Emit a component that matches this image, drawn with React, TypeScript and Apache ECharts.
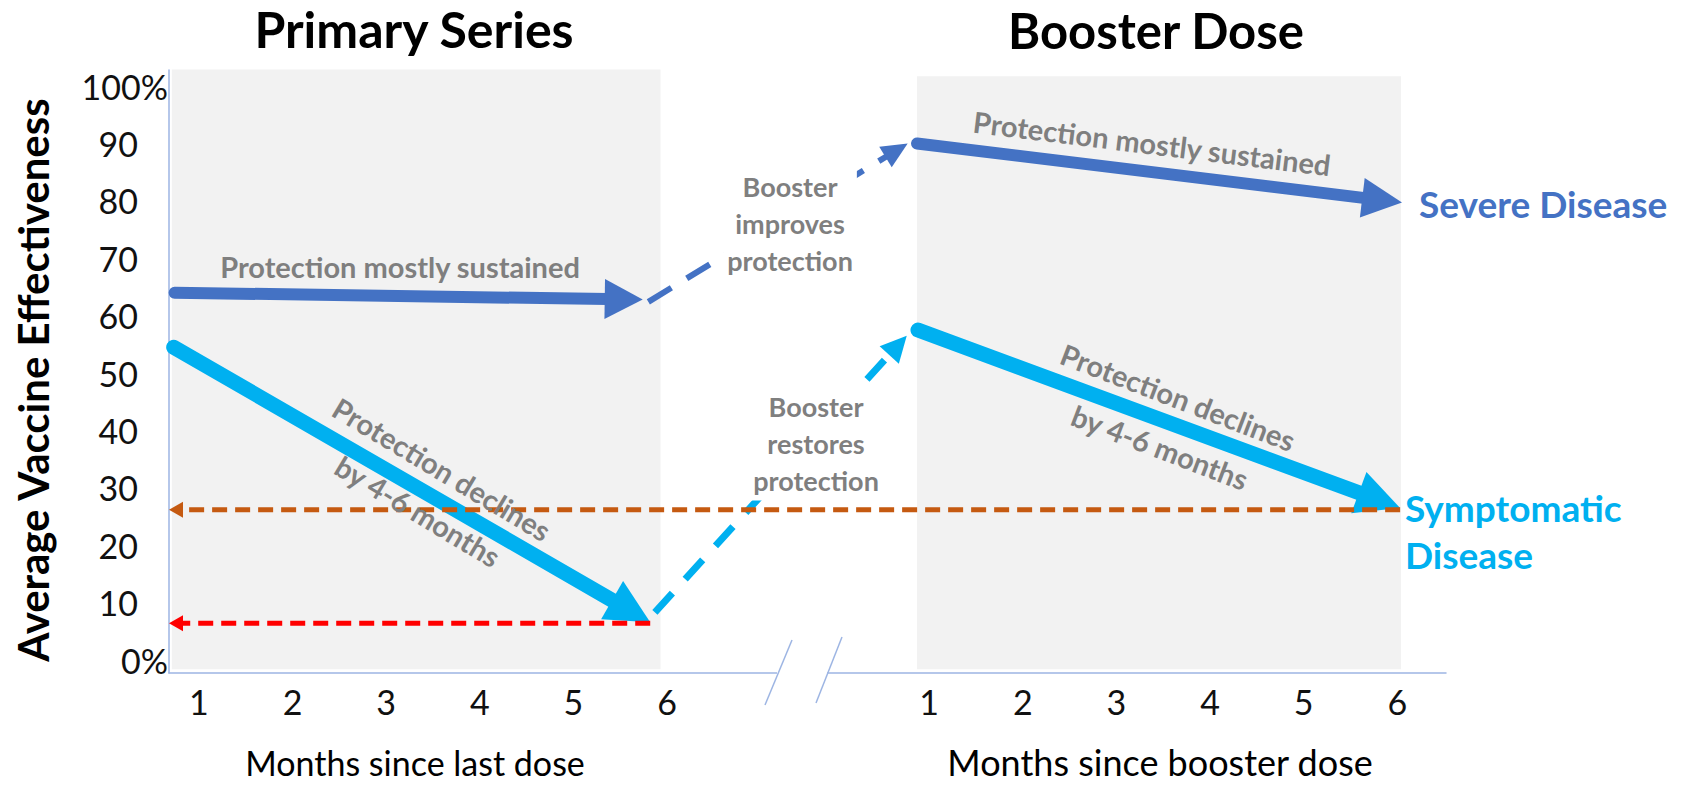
import React, { useEffect, useRef } from "react";
import * as echarts from "echarts";

// ---------------- data ----------------
const primaryMonths = [1, 2, 3, 4, 5, 6];
const boosterMonths = [1, 2, 3, 4, 5, 6];
const BOOSTER_OFFSET = 7.8; // booster month m sits at axis position m + offset
const yTickValues = [0, 10, 20, 30, 40, 50, 60, 70, 80, 90, 100];

// arrows: [startMonth, startVE, endMonth, endVE]
const severePrimary = [0.74, 64, 5.74, 62.8];
const symptomaticPrimary = [0.73, 54.5, 5.82, 6.6];
const severeBooster = [0.87, 90, 6.05, 79.7];
const symptomaticBooster = [0.88, 57.5, 6.03, 26.5];
// jumps: [primaryMonth, VE, boosterMonth, VE]
const severeJump = [5.8, 62.4, 0.77, 90];
const symptomaticJump = [5.87, 8.3, 0.76, 56.5];
// reference levels (% VE)
const waningSymptomaticLevel = 6.4;
const boostedSymptomaticLevel = 26.2;
// shaded periods [startMonth, endMonth]
const primaryPeriod = [0.71, 5.93];
const boosterPeriod = [0.87, 6.04];

const X_MIN = 0.68;
const X_MAX = 14.32;
const Y_MIN = -2.26;
const Y_MAX = 102.8;

const FONT = "Lato, 'Open Sans', 'DejaVu Sans', sans-serif";
const SEVERE = "#4472C4";
const SYMPT = "#00B0F0";
const ORANGE = "#C55A11";
const RED = "#FF0000";
const GREY_TXT = "#7F7F7F";
const AXIS_BLUE = "#9DB5E3";

const pAx = (m: number) => m;
const bAx = (m: number) => m + BOOSTER_OFFSET;

function arrowSeries(
  name: string,
  coords: number[],
  opt: { color: string; width: number; headLen: number; headWidth: number; dash?: number[]; z: number }
) {
  return {
    name,
    type: "custom",
    coordinateSystem: "cartesian2d",
    silent: true,
    z: opt.z,
    clip: false,
    encode: { x: [0, 2], y: [1, 3] },
    data: [coords],
    renderItem: (_params: any, api: any) => {
      const p1 = api.coord([api.value(0), api.value(1)]);
      const p2 = api.coord([api.value(2), api.value(3)]);
      const dx = p2[0] - p1[0];
      const dy = p2[1] - p1[1];
      const len = Math.hypot(dx, dy) || 1;
      const ux = dx / len;
      const uy = dy / len;
      const bx = p2[0] - ux * opt.headLen;
      const by = p2[1] - uy * opt.headLen;
      const nx = -uy;
      const ny = ux;
      const hw = opt.headWidth / 2;
      return {
        type: "group",
        children: [
          {
            type: "line",
            shape: { x1: p1[0], y1: p1[1], x2: bx + ux * 3, y2: by + uy * 3 },
            style: {
              stroke: opt.color,
              lineWidth: opt.width,
              lineDash: opt.dash || null,
              lineCap: opt.dash ? "butt" : "round",
              fill: null,
            },
          },
          {
            type: "polygon",
            shape: {
              points: [
                [p2[0], p2[1]],
                [bx + nx * hw, by + ny * hw],
                [bx - nx * hw, by - ny * hw],
              ],
            },
            style: { fill: opt.color },
          },
        ],
      };
    },
  };
}

function panelSeries(name: string, data: number[][]) {
  return {
    name,
    type: "custom",
    coordinateSystem: "cartesian2d",
    silent: true,
    z: 1,
    clip: false,
    data,
    renderItem: (_params: any, api: any) => {
      const a = api.coord([api.value(0), api.value(2)]);
      const b = api.coord([api.value(1), api.value(3)]);
      return {
        type: "rect",
        shape: { x: a[0], y: a[1], width: b[0] - a[0], height: b[1] - a[1] },
        style: { fill: "#F2F2F2" },
      };
    },
  };
}

const textEl = (
  text: string,
  x: number,
  y: number,
  o: { size: number; color: string; weight?: string; rot?: number; align?: string; lh?: number; bg?: string }
) => ({
  type: "text",
  x,
  y,
  rotation: ((o.rot || 0) * Math.PI) / 180,
  z: 100,
  silent: true,
  style: {
    text,
    fill: o.color,
    fontSize: o.size,
    fontFamily: FONT,
    fontWeight: o.weight || "normal",
    align: o.align || "center",
    verticalAlign: "middle",
    lineHeight: o.lh,
    backgroundColor: o.bg,
    padding: o.bg ? [2, 4] : 0,
  },
});

export default function App() {
  const ref = useRef<HTMLDivElement>(null);

  useEffect(() => {
    document.body.style.margin = "0";
    if (!ref.current) return;
    const chart = echarts.init(ref.current, null, { renderer: "svg" });

    const xTickValues = [...primaryMonths.map(pAx), ...boosterMonths.map(bAx)];
    const xTickLabels = [...primaryMonths, ...boosterMonths].map(String);

    const option: any = {
      animation: false,
      backgroundColor: "#ffffff",
      grid: { left: 169, right: 235, top: 70, bottom: 118, containLabel: false },
      xAxis: {
        type: "value",
        min: X_MIN,
        max: X_MAX,
        splitLine: { show: false },
        axisTick: { show: false },
        axisLine: { show: true, onZero: false, lineStyle: { color: AXIS_BLUE, width: 1.5 } },
        axisLabel: {
          customValues: xTickValues,
          formatter: (v: number) => {
            const i = xTickValues.findIndex((t) => Math.abs(t - v) < 1e-6);
            return i >= 0 ? xTickLabels[i] : "";
          },
          fontSize: 34,
          fontFamily: FONT,
          color: "#111",
          margin: 11,
        },
      },
      yAxis: {
        type: "value",
        min: Y_MIN,
        max: Y_MAX,
        splitLine: { show: false },
        axisTick: { show: false },
        axisLine: { show: true, lineStyle: { color: AXIS_BLUE, width: 1.5 } },
        axisLabel: {
          customValues: yTickValues,
          formatter: (v: number) =>
            v === 0 || v === 100 ? `${v}%` : `{n|${v}}`,
          rich: { n: { padding: [0, 30, 0, 0], fontSize: 34, fontFamily: FONT, color: "#111" } },
          fontSize: 34,
          fontFamily: FONT,
          color: "#111",
          margin: 1,
        },
      },
      series: [
        panelSeries("periods", [
          [pAx(primaryPeriod[0]), pAx(primaryPeriod[1]), 102.9, -1.6],
          [bAx(boosterPeriod[0]), bAx(boosterPeriod[1]), 101.7, -1.6],
        ]),
        arrowSeries(
          "Severe disease, primary",
          [pAx(severePrimary[0]), severePrimary[1], pAx(severePrimary[2]), severePrimary[3]],
          { color: SEVERE, width: 12, headLen: 38, headWidth: 40, z: 4 }
        ),
        arrowSeries(
          "Symptomatic disease, primary",
          [pAx(symptomaticPrimary[0]), symptomaticPrimary[1], pAx(symptomaticPrimary[2]), symptomaticPrimary[3]],
          { color: SYMPT, width: 15, headLen: 44, headWidth: 44, z: 4 }
        ),
        arrowSeries(
          "Severe disease, booster",
          [bAx(severeBooster[0]), severeBooster[1], bAx(severeBooster[2]), severeBooster[3]],
          { color: SEVERE, width: 12, headLen: 40, headWidth: 40, z: 4 }
        ),
        arrowSeries(
          "Symptomatic disease, booster",
          [bAx(symptomaticBooster[0]), symptomaticBooster[1], bAx(symptomaticBooster[2]), symptomaticBooster[3]],
          { color: SYMPT, width: 15, headLen: 44, headWidth: 44, z: 4 }
        ),
        arrowSeries(
          "Booster improves protection",
          [pAx(severeJump[0]), severeJump[1], bAx(severeJump[2]), severeJump[3]],
          { color: SEVERE, width: 6, headLen: 26, headWidth: 24, dash: [27, 18], z: 3 }
        ),
        arrowSeries(
          "Booster restores protection",
          [pAx(symptomaticJump[0]), symptomaticJump[1], bAx(symptomaticJump[2]), symptomaticJump[3]],
          { color: SYMPT, width: 7, headLen: 26, headWidth: 26, dash: [26, 19], z: 3 }
        ),
        arrowSeries(
          "Waned symptomatic protection",
          [pAx(symptomaticPrimary[2]), waningSymptomaticLevel, X_MIN, waningSymptomaticLevel],
          { color: RED, width: 5, headLen: 14, headWidth: 16, dash: [15, 8], z: 5 }
        ),
        arrowSeries(
          "Boosted symptomatic protection at 6 months",
          [bAx(symptomaticBooster[2]), boostedSymptomaticLevel, X_MIN, boostedSymptomaticLevel],
          { color: ORANGE, width: 5, headLen: 14, headWidth: 16, dash: [15, 8], z: 5 }
        ),
      ],
      graphic: [
        // axis break
        { type: "rect", z: 90, silent: true, shape: { x: 777, y: 666, width: 50, height: 14 }, style: { fill: "#fff" } },
        { type: "line", z: 91, silent: true, shape: { x1: 792, y1: 640, x2: 765, y2: 705 }, style: { stroke: AXIS_BLUE, lineWidth: 1.5 } },
        { type: "line", z: 91, silent: true, shape: { x1: 842, y1: 637, x2: 816, y2: 703 }, style: { stroke: AXIS_BLUE, lineWidth: 1.5 } },
        // titles
        textEl("Primary Series", 414, 29, { size: 50, color: "#000", weight: "bold" }),
        textEl("Booster Dose", 1156, 30, { size: 49, color: "#000", weight: "bold" }),
        // axis names
        textEl("Average Vaccine Effectiveness", 33, 380, { size: 42, color: "#000", weight: "bold", rot: 90 }),
        textEl("Months since last dose", 415, 762, { size: 34, color: "#000" }),
        textEl("Months since booster dose", 1160, 762, { size: 36, color: "#000" }),
        // annotations
        textEl("Protection mostly sustained", 400, 266, { size: 29, color: GREY_TXT, weight: "bold" }),
        textEl("Protection declines", 442, 469, { size: 29, color: GREY_TXT, weight: "bold", rot: -31 }),
        textEl("by 4-6 months", 418, 511, { size: 29, color: GREY_TXT, weight: "bold", rot: -31 }),
        textEl("Protection mostly sustained", 1152, 143, { size: 29, color: GREY_TXT, weight: "bold", rot: -7 }),
        textEl("Protection declines", 1178, 397, { size: 29, color: GREY_TXT, weight: "bold", rot: -21 }),
        textEl("by 4-6 months", 1160, 447, { size: 29, color: GREY_TXT, weight: "bold", rot: -21 }),
        textEl("Booster\nimproves\nprotection", 790, 223, { size: 27, color: GREY_TXT, weight: "bold", lh: 37, bg: "#ffffff" }),
        textEl("Booster\nrestores\nprotection", 816, 443, { size: 27, color: GREY_TXT, weight: "bold", lh: 37, bg: "#ffffff" }),
        // series labels
        textEl("Severe Disease", 1419, 203, { size: 37, color: SEVERE, weight: "bold", align: "left" }),
        textEl("Symptomatic\nDisease", 1405, 531, { size: 37, color: SYMPT, weight: "bold", align: "left", lh: 47 }),
      ],
    };

    chart.setOption(option);
    return () => chart.dispose();
  }, []);

  return <div ref={ref} style={{ width: 1681, height: 791 }} />;
}
